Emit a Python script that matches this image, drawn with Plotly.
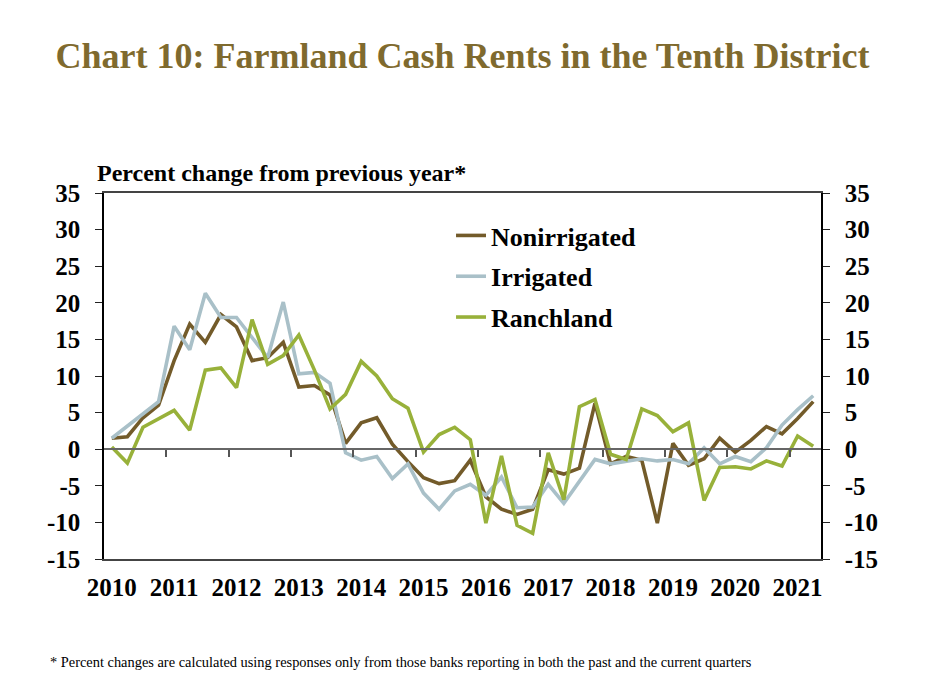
import plotly.graph_objects as go

years = [str(y) for y in range(2010, 2022)]
quarters = [f"{y} Q{q}" for y in range(2010, 2022) for q in range(1, 5)][:46]
y_ticks = [-15, -10, -5, 0, 5, 10, 15, 20, 25, 30, 35]

nonirrigated = [1.5, 1.7, 4.3, 6.0, 12.1, 17.1, 14.6, 18.4, 16.7, 12.1, 12.5, 14.6,
                8.5, 8.7, 7.4, 0.8, 3.6, 4.3, 0.7, -1.7, -3.9, -4.7, -4.3, -1.5,
                -6.5, -8.2, -8.9, -8.2, -2.8, -3.4, -2.6, 6.3, -2.0, -1.0, -1.5, -10.1,
                0.8, -2.2, -1.3, 1.5, -0.4, 1.2, 3.1, 2.1, 4.2, 6.5]
irrigated = [1.5, 3.2, 4.9, 6.5, 16.8, 13.6, 21.3, 18.0, 18.0, 15.3, 12.5, 20.1,
             10.3, 10.5, 9.0, -0.5, -1.5, -1.0, -4.0, -2.0, -6.0, -8.2, -5.7, -4.8,
             -6.3, -3.8, -8.0, -7.9, -4.8, -7.4, -4.5, -1.4, -2.0, -1.7, -1.3, -1.6,
             -1.4, -2.0, 0.2, -2.0, -1.0, -1.7, 0.2, 3.3, 5.4, 7.3]
ranchland = [0.3, -1.9, 3.0, 4.2, 5.3, 2.6, 10.8, 11.1, 8.4, 17.7, 11.6, 12.8,
             15.6, 10.8, 5.5, 7.5, 12.0, 10.0, 6.9, 5.6, -0.4, 2.0, 3.0, 1.3,
             -10.1, -0.9, -10.4, -11.5, -0.5, -6.9, 5.8, 6.8, -0.7, -1.4, 5.5, 4.6,
             2.4, 3.6, -7.0, -2.5, -2.4, -2.7, -1.6, -2.3, 1.8, 0.4]

series = [("Nonirrigated", nonirrigated, "#735B2A"),
          ("Irrigated", irrigated, "#A9C0C8"),
          ("Ranchland", ranchland, "#98B13A")]

idx = list(range(len(quarters)))
year_pos = [i for i in idx if quarters[i].endswith("Q1")]
boundary_pos = [p - 0.5 for p in year_pos[1:]]

SERIF = "Liberation Serif, Times New Roman, serif"
W, H = 917, 685
L, R, T, B = 96, 104, 185, 134
PW, PH = W - L - R, H - T - B

fig = go.Figure()
for k, (name, vals, col) in enumerate(series):
    fig.add_trace(go.Scatter(x=idx, y=vals, name=f"<b>{name}</b>", mode="lines",
                             line=dict(color=col, width=3.6),
                             legendgroup=f"g{k}", hovertext=quarters))
fig.add_trace(go.Scatter(x=[idx[0]], y=[0], yaxis="y2", showlegend=False,
                         mode="markers", marker=dict(opacity=0), hoverinfo="skip"))
fig.add_trace(go.Scatter(x=[idx[0]], y=[0], xaxis="x2", showlegend=False,
                         mode="markers", marker=dict(opacity=0), hoverinfo="skip"))

tickfont = dict(family=SERIF, size=25, color="black")
yr = [y_ticks[0], y_ticks[-1]]
ytext = [f"<b>{v}</b>" for v in y_ticks]
fig.update_layout(
    width=W, height=H,
    margin=dict(l=L, r=R, t=T, b=B, autoexpand=False),
    paper_bgcolor="white", plot_bgcolor="white",
    title=dict(text="<b>Chart 10: Farmland Cash Rents in the Tenth District</b>",
               xref="paper", x=0.5, xanchor="center", y=1 - 47 / H, yanchor="middle",
               font=dict(family=SERIF, size=36, color="#7F6A2E")),
    xaxis=dict(range=[-0.5, len(idx) - 0.5], tickvals=year_pos,
               ticktext=[f"<b>{y}</b>" for y in years],
               ticks="", showgrid=False, zeroline=False, showline=True,
               linecolor="#444444", linewidth=1.5, mirror=True,
               tickfont=tickfont, ticklabelstandoff=5),
    xaxis2=dict(range=[-0.5, len(idx) - 0.5], overlaying="x", anchor="free",
                position=(0 - yr[0]) / (yr[1] - yr[0]), side="bottom",
                tickvals=boundary_pos, showticklabels=False, ticks="outside",
                ticklen=7, tickcolor="#555555", tickwidth=1.5, showgrid=False,
                zeroline=False, showline=True, linecolor="#666666", linewidth=2),
    yaxis=dict(range=yr, tickvals=y_ticks, ticktext=ytext, ticks="outside", ticklen=7,
               tickcolor="#222222", showgrid=False, zeroline=False, showline=True,
               linecolor="black", linewidth=1.5, tickfont=tickfont,
               ticklabelstandoff=10),
    yaxis2=dict(range=yr, tickvals=y_ticks, ticktext=ytext, overlaying="y", side="right",
                ticks="outside", ticklen=7, tickcolor="#222222", showgrid=False,
                zeroline=False, showline=True, linecolor="black", linewidth=1.5,
                tickfont=tickfont, ticklabelstandoff=10),
    legend=dict(x=0.484, y=0.948, xanchor="left", yanchor="top",
                bgcolor="rgba(0,0,0,0)", tracegroupgap=4,
                font=dict(family=SERIF, size=26, color="black"),
                itemwidth=30),
    showlegend=True,
)

fig.add_annotation(text="<b>Percent change from previous year*</b>",
                   xref="paper", yref="paper", x=(87 - L) / PW, y=(H - B - 165) / PH,
                   xanchor="left", yanchor="middle", showarrow=False,
                   font=dict(family=SERIF, size=24, color="black"))
fig.add_annotation(text="* Percent changes are calculated using responses only from those banks reporting in both the past and the current quarters",
                   xref="paper", yref="paper", x=(40 - L) / PW, y=(H - B - 654) / PH,
                   xanchor="left", yanchor="middle", showarrow=False,
                   font=dict(family=SERIF, size=14.4, color="black"))

fig.write_html("out.html")
